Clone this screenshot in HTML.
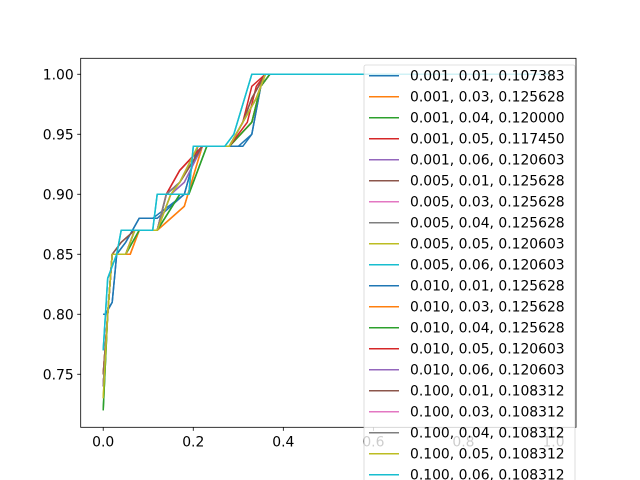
<!DOCTYPE html>
<html><head><meta charset="utf-8"><style>
body{margin:0;background:#fff}
svg{display:block;font-family:"DejaVu Sans","Liberation Sans",sans-serif}
</style></head><body>
<svg id="chart" width="640" height="480" viewBox="0 0 640 480"></svg>
<script>
const labels=["0.001, 0.01, 0.107383","0.001, 0.03, 0.125628","0.001, 0.04, 0.120000","0.001, 0.05, 0.117450","0.001, 0.06, 0.120603","0.005, 0.01, 0.125628","0.005, 0.03, 0.125628","0.005, 0.04, 0.125628","0.005, 0.05, 0.120603","0.005, 0.06, 0.120603","0.010, 0.01, 0.125628","0.010, 0.03, 0.125628","0.010, 0.04, 0.125628","0.010, 0.05, 0.120603","0.010, 0.06, 0.120603","0.100, 0.01, 0.108312","0.100, 0.03, 0.108312","0.100, 0.04, 0.108312","0.100, 0.05, 0.108312","0.100, 0.06, 0.108312"];
const colors=["#1f77b4","#ff7f0e","#2ca02c","#d62728","#9467bd","#8c564b","#e377c2","#7f7f7f","#bcbd22","#17becf"];
const xTicks=[0,0.2,0.4,0.6,0.8,1.0];
const xTickLabels=["0.0","0.2","0.4","0.6","0.8","1.0"];
const yTicks=[0.75,0.80,0.85,0.90,0.95,1.00];
const yTickLabels=["0.75","0.80","0.85","0.90","0.95","1.00"];
const seriesX=[
[0,0.005,0.02,0.03,0.05,0.08,0.11,0.18,0.21,0.31,0.33,0.35,0.37,1.0],
[0,0.01,0.02,0.06,0.08,0.12,0.15,0.18,0.22,0.28,0.33,0.35,0.37,1.0],
[0,0.01,0.02,0.05,0.08,0.12,0.17,0.19,0.23,0.28,0.33,0.35,0.37,1.0],
[0,0.01,0.02,0.05,0.07,0.12,0.14,0.17,0.22,0.28,0.31,0.33,0.36,1.0],
[0,0.01,0.02,0.05,0.07,0.12,0.15,0.18,0.22,0.28,0.31,0.34,0.36,1.0],
[0,0.01,0.02,0.04,0.07,0.12,0.14,0.17,0.22,0.28,0.31,0.33,0.36,1.0],
[0,0.01,0.02,0.05,0.07,0.12,0.14,0.17,0.21,0.28,0.31,0.34,0.36,1.0],
[0,0.01,0.02,0.05,0.07,0.12,0.14,0.17,0.21,0.28,0.31,0.34,0.36,1.0],
[0,0.01,0.02,0.05,0.07,0.12,0.15,0.17,0.21,0.28,0.31,0.34,0.36,1.0],
[0,0.01,0.02,0.03,0.04,0.06,0.11,0.12,0.19,0.20,0.27,0.29,0.33,1.0],
[0,0.005,0.02,0.03,0.05,0.08,0.12,0.18,0.21,0.30,0.33,0.35,0.37,1.0],
[0,0.01,0.02,0.06,0.08,0.12,0.15,0.18,0.22,0.28,0.33,0.35,0.37,1.0],
[0,0.01,0.02,0.05,0.08,0.12,0.17,0.19,0.23,0.28,0.33,0.35,0.37,1.0],
[0,0.01,0.02,0.05,0.07,0.12,0.14,0.17,0.22,0.28,0.32,0.34,0.36,1.0],
[0,0.01,0.02,0.05,0.07,0.12,0.15,0.18,0.22,0.28,0.31,0.34,0.36,1.0],
[0,0.01,0.02,0.04,0.07,0.12,0.14,0.17,0.22,0.28,0.31,0.33,0.36,1.0],
[0,0.01,0.02,0.05,0.07,0.12,0.14,0.17,0.21,0.28,0.31,0.34,0.36,1.0],
[0,0.01,0.02,0.05,0.07,0.12,0.14,0.17,0.21,0.28,0.31,0.34,0.36,1.0],
[0,0.01,0.02,0.05,0.07,0.12,0.15,0.17,0.21,0.28,0.31,0.34,0.36,1.0],
[0,0.01,0.02,0.03,0.04,0.06,0.11,0.12,0.19,0.20,0.27,0.29,0.33,1.0]];
const seriesY=[
[0.80,0.80,0.81,0.85,0.86,0.88,0.88,0.90,0.94,0.94,0.95,0.99,1.00,1.00],
[0.75,0.80,0.85,0.85,0.87,0.87,0.88,0.89,0.94,0.94,0.96,0.99,1.00,1.00],
[0.72,0.80,0.85,0.85,0.87,0.87,0.90,0.90,0.94,0.94,0.96,0.99,1.00,1.00],
[0.74,0.80,0.85,0.85,0.87,0.87,0.90,0.92,0.94,0.94,0.96,0.99,1.00,1.00],
[0.74,0.80,0.85,0.85,0.87,0.87,0.90,0.91,0.94,0.94,0.96,0.98,1.00,1.00],
[0.75,0.80,0.85,0.86,0.87,0.87,0.90,0.91,0.94,0.94,0.96,0.98,1.00,1.00],
[0.74,0.80,0.85,0.85,0.87,0.87,0.90,0.91,0.94,0.94,0.96,0.98,1.00,1.00],
[0.74,0.80,0.85,0.85,0.87,0.87,0.90,0.91,0.94,0.94,0.96,0.98,1.00,1.00],
[0.73,0.80,0.85,0.85,0.87,0.87,0.90,0.91,0.94,0.94,0.96,0.98,1.00,1.00],
[0.77,0.83,0.84,0.85,0.87,0.87,0.87,0.90,0.90,0.94,0.94,0.95,1.00,1.00],
[0.80,0.80,0.81,0.85,0.86,0.88,0.88,0.90,0.94,0.94,0.95,0.99,1.00,1.00],
[0.75,0.80,0.85,0.85,0.87,0.87,0.88,0.89,0.94,0.94,0.96,0.99,1.00,1.00],
[0.72,0.80,0.85,0.85,0.87,0.87,0.90,0.90,0.94,0.94,0.96,0.99,1.00,1.00],
[0.74,0.80,0.85,0.85,0.87,0.87,0.90,0.92,0.94,0.94,0.96,0.99,1.00,1.00],
[0.74,0.80,0.85,0.85,0.87,0.87,0.90,0.91,0.94,0.94,0.96,0.98,1.00,1.00],
[0.75,0.80,0.85,0.86,0.87,0.87,0.90,0.91,0.94,0.94,0.96,0.98,1.00,1.00],
[0.74,0.80,0.85,0.85,0.87,0.87,0.90,0.91,0.94,0.94,0.96,0.98,1.00,1.00],
[0.74,0.80,0.85,0.85,0.87,0.87,0.90,0.91,0.94,0.94,0.96,0.98,1.00,1.00],
[0.73,0.80,0.85,0.85,0.87,0.87,0.90,0.91,0.94,0.94,0.96,0.98,1.00,1.00],
[0.77,0.83,0.84,0.85,0.87,0.87,0.87,0.90,0.90,0.94,0.94,0.95,1.00,1.00]];

const NS="http://www.w3.org/2000/svg";
const svg=document.getElementById('chart');
const L=80.7,R=576,T=58.3,B=427.3;
const X0=-0.05,X1=1.05,Y0=0.7058,Y1=1.0133;
const sx=v=>L+(v-X0)/(X1-X0)*(R-L);
const sy=v=>B-(v-Y0)/(Y1-Y0)*(B-T);
function mk(tag,attrs,parent){const e=document.createElementNS(NS,tag);for(const k in attrs)e.setAttribute(k,attrs[k]);(parent||svg).appendChild(e);return e;}

const clip=mk('clipPath',{id:'cp'});mk('rect',{x:L,y:T,width:R-L,height:B-T},clip);
const plot=mk('g',{'clip-path':'url(#cp)'});


seriesX.forEach((xs,i)=>{
  const d=xs.map((x,j)=>(j?'L':'M')+sx(x).toFixed(1)+','+sy(seriesY[i][j]).toFixed(1)).join('');
  const p=mk('path',{d:d,fill:'none',stroke:colors[i%10],'stroke-width':1.5,'stroke-linejoin':'round'},plot);
  
  
});

const ax=mk('g',{});


xTicks.forEach((v,i)=>{
  mk('line',{x1:sx(v),x2:sx(v),y1:B,y2:B+3.5,stroke:'#000','stroke-width':0.8},ax);
  const t=mk('text',{x:sx(v),y:B+19,'text-anchor':'middle','font-size':13.9,fill:'#000'},ax);
  t.textContent=xTickLabels[i];
  
  
});
yTicks.forEach((v,i)=>{
  mk('line',{x1:L-3.5,x2:L,y1:sy(v),y2:sy(v),stroke:'#000','stroke-width':0.8},ax);
  const t=mk('text',{x:L-7,y:sy(v)+5,'text-anchor':'end','font-size':13.9,fill:'#000'},ax);
  t.textContent=yTickLabels[i];
  
  
});
const fr=mk('rect',{x:L,y:T,width:R-L,height:B-T,fill:'none',stroke:'#000','stroke-width':0.8},ax);



const lg=mk('g',{});


const lb=mk('rect',{x:364,y:65,width:211,height:430,rx:2,fill:'#fff','fill-opacity':0.8,stroke:'#ccc','stroke-opacity':0.8,'stroke-width':0.8},lg);


labels.forEach((s,i)=>{
  const y=75.7+i*21;
  const ln=mk('line',{x1:369,x2:399,y1:y,y2:y,stroke:colors[i%10],'stroke-width':1.5},lg);
  
  
  const t=mk('text',{x:410,y:y+5,'font-size':13.9,fill:'#000'},lg);
  t.textContent=s;
  
  
});
</script>
</body></html>
